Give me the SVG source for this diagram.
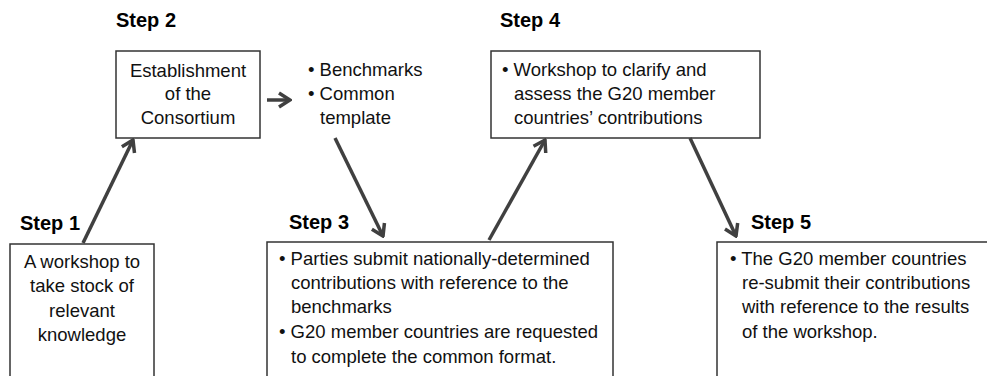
<svg xmlns="http://www.w3.org/2000/svg" width="987" height="376" viewBox="0 0 987 376">
<defs>
<style>
.box{fill:#fff;stroke:#333;stroke-width:1.5}
.lbl{font-family:"Liberation Sans",Arial,sans-serif;font-weight:bold;font-size:20px;fill:#000}
.t{font-family:"Liberation Sans",Arial,sans-serif;font-size:18.5px;fill:#111}
.c{text-anchor:middle}
.arr{stroke:#404040;stroke-width:3.5;fill:none;marker-end:url(#ah)}
</style>
<marker id="ah" viewBox="-14 -9 16 18" markerWidth="16" markerHeight="18" refX="0" refY="0" orient="auto" markerUnits="userSpaceOnUse">
<path d="M-11,-7 L0,0 L-11,7" fill="none" stroke="#404040" stroke-width="3.5" stroke-linejoin="miter"/>
</marker>
</defs>
<rect width="987" height="376" fill="#fff"/>
<g id="step1">
<text class="lbl" x="20" y="230">Step 1</text>
<rect class="box" x="10" y="244" width="144" height="140"/>
<text class="t c" x="82" y="268">A workshop to</text>
<text class="t c" x="82" y="292">take stock of</text>
<text class="t c" x="82" y="317">relevant</text>
<text class="t c" x="82" y="341">knowledge</text>
</g>
<g id="step2">
<text class="lbl" x="116" y="27">Step 2</text>
<rect class="box" x="116" y="51" width="144" height="87"/>
<text class="t c" x="188" y="77">Establishment</text>
<text class="t c" x="188" y="100">of the</text>
<text class="t c" x="188" y="124">Consortium</text>
</g>
<g id="outputs">
<text class="t" x="308" y="76">• Benchmarks</text>
<text class="t" x="308" y="100">• Common</text>
<text class="t" x="320" y="124">template</text>
</g>
<g id="step3">
<text class="lbl" x="289" y="229">Step 3</text>
<rect class="box" x="267" y="242" width="346" height="142"/>
<text class="t" x="279" y="265">• Parties submit nationally-determined</text>
<text class="t" x="291" y="289">contributions with reference to the</text>
<text class="t" x="291" y="313">benchmarks</text>
<text class="t" x="279" y="338">• G20 member countries are requested</text>
<text class="t" x="291" y="363">to complete the common format.</text>
</g>
<g id="step4">
<text class="lbl" x="500" y="27">Step 4</text>
<rect class="box" x="491" y="51" width="269" height="87"/>
<text class="t" x="502" y="76">• Workshop to clarify and</text>
<text class="t" x="514" y="100">assess the G20 member</text>
<text class="t" x="514" y="124">countries’ contributions</text>
</g>
<g id="step5">
<text class="lbl" x="751" y="229">Step 5</text>
<rect class="box" x="717" y="242" width="280" height="142"/>
<text class="t" x="730" y="265">• The G20 member countries</text>
<text class="t" x="742" y="289">re-submit their contributions</text>
<text class="t" x="742" y="313">with reference to the results</text>
<text class="t" x="742" y="338">of the workshop.</text>
</g>
<g id="connectors">
<line class="arr" x1="83" y1="243" x2="133" y2="140"/>
<line class="arr" x1="267" y1="100" x2="290" y2="100"/>
<line class="arr" x1="335" y1="138" x2="383" y2="236"/>
<line class="arr" x1="489" y1="240" x2="545" y2="140"/>
<line class="arr" x1="690" y1="138" x2="736" y2="236"/>
</g>
</svg>
